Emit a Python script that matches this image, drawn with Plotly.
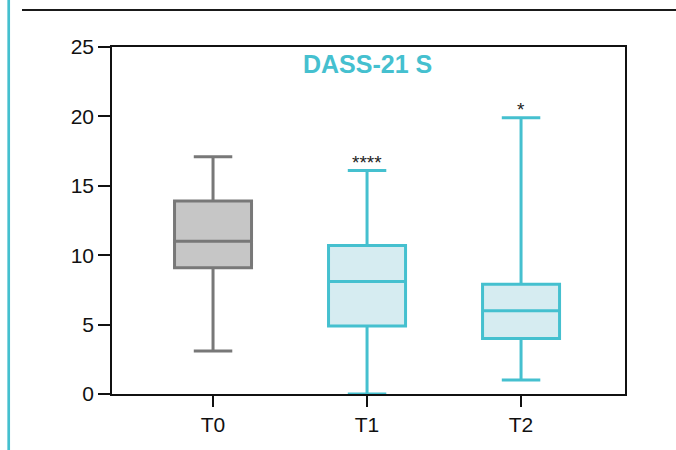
import plotly.graph_objects as go

categories = ["T0", "T1", "T2"]
lower_whisker = [3.1, 0.0, 1.0]
q1_values = [9.1, 4.9, 4.0]
medians = [11.0, 8.1, 6.0]
q3_values = [13.9, 10.7, 7.9]
upper_whisker = [17.1, 16.1, 19.9]
significance = ["", "****", "*"]

line_colors = ["#787878", "#45c0cf", "#45c0cf"]
fill_colors = ["#c6c6c6", "#d6ecf1", "#d6ecf1"]

fig = go.Figure()
for i, cat in enumerate(categories):
    fig.add_trace(go.Box(
        x=[cat],
        lowerfence=[lower_whisker[i]],
        q1=[q1_values[i]],
        median=[medians[i]],
        q3=[q3_values[i]],
        upperfence=[upper_whisker[i]],
        width=0.5,
        whiskerwidth=0.5,
        line=dict(color=line_colors[i], width=3),
        fillcolor=fill_colors[i],
        boxpoints=False,
        showlegend=False,
        hoverinfo="skip",
    ))

for i, cat in enumerate(categories):
    if significance[i]:
        fig.add_annotation(
            x=cat, y=upper_whisker[i], text=significance[i],
            showarrow=False, yanchor="bottom", yshift=-4,
            font=dict(family="Liberation Sans, Arial", size=19, color="#222222"),
        )

W, H = 676, 450
ml, mr, mt, mb = 112, 51, 47, 56
pw, ph = W - ml - mr, H - mt - mb

def px_x(px):
    return (px - ml) / pw

def px_y(py):
    return (H - mb - py) / ph

fig.add_shape(type="line", xref="paper", yref="paper",
              x0=px_x(8.7), x1=px_x(8.7), y0=px_y(0), y1=px_y(450),
              line=dict(color="#45c0cf", width=2.7))
fig.add_shape(type="line", xref="paper", yref="paper",
              x0=px_x(22), x1=px_x(676), y0=px_y(10), y1=px_y(10),
              line=dict(color="#1a1a1a", width=1.8))

fig.add_annotation(
    xref="paper", yref="paper", x=px_x(367), y=px_y(64),
    text="<b>DASS-21 S</b>", showarrow=False,
    xanchor="center", yanchor="middle",
    font=dict(family="Liberation Sans, Arial", size=25, color="#45c0cf"),
)

axis_font = dict(family="Liberation Sans, Arial", size=21, color="#111111")
fig.update_layout(
    width=W, height=H,
    margin=dict(l=ml, r=mr, t=mt, b=mb),
    paper_bgcolor="white", plot_bgcolor="white",
    boxmode="overlay",
    xaxis=dict(
        type="category", categoryorder="array", categoryarray=categories,
        range=[-0.656, 2.675],
        showline=True, linecolor="#111111", linewidth=1.5, mirror=True,
        ticks="outside", ticklen=11, tickwidth=1.5, tickcolor="#111111",
        tickfont=axis_font, showgrid=False, zeroline=False,
    ),
    yaxis=dict(
        range=[0, 25], tickvals=[0, 5, 10, 15, 20, 25],
        showline=True, linecolor="#111111", linewidth=1.5, mirror=True,
        ticks="outside", ticklen=12, tickwidth=1.5, tickcolor="#111111",
        tickfont=axis_font, showgrid=False, zeroline=False,
    ),
)

fig.write_html("out.html", config={"displayModeBar": False},
               post_script="document.body.style.margin='0';")
